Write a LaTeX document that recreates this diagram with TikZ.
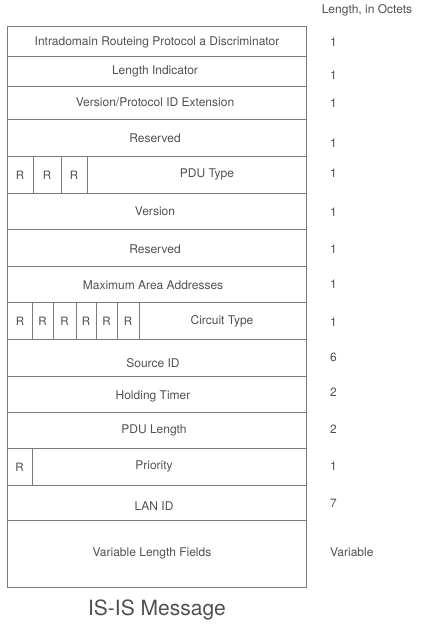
\documentclass[tikz,border=0pt]{standalone}
\usepackage{fontspec}
\setmainfont{TeX Gyre Heros}
\definecolor{txt}{HTML}{505050}
\definecolor{ln}{HTML}{7A7A7A}
\begin{document}
\begin{tikzpicture}[x=1pt,y=-1pt,
  cell/.style={draw=ln,line width=0.9pt},
  lab/.style={text=txt,font=\fontsize{12}{14}\selectfont,inner sep=0pt},
  num/.style={text=txt,font=\fontsize{12}{14}\selectfont,inner sep=0pt,anchor=west},
  rr/.style={text=txt,font=\fontsize{11.5}{14}\selectfont,inner sep=0pt}]
\useasboundingbox (0,0) rectangle (423,628);
% rows
\foreach \a/\b [count=\i] in {26/56,56/86,86/119,119/156,156/193,193/229,229/266,266/302,302/339,339/376,376/412,412/448,448/485,485/520,520/587}
  \draw[cell] (7,\a) rectangle (306,\b) coordinate (row\i);
% sub-cells
\foreach \x in {33,61,87} \draw[cell] (\x,156) -- (\x,193);
\foreach \x in {32,53,76,96,117,139} \draw[cell] (\x,302) -- (\x,339);
\draw[cell] (32,448) -- (32,485);
% header
\node[lab] (hdr) at (367,10) {Length, in Octets};
% labels
\node[lab] (f1) at (157,42) {Intradomain Routeing Protocol a Discriminator};
\node[lab] (f2) at (155,71) {Length Indicator};
\node[lab] (f3) at (155,102) {Version/Protocol ID Extension};
\node[lab] (f4) at (155,138) {Reserved};
\node[rr] (p1) at (20,175) {R};
\node[rr] (p2) at (47,175) {R};
\node[rr] (p3) at (74,175) {R};
\node[lab] (f5) at (207,174) {PDU Type};
\node[lab] (f6) at (155,211) {Version};
\node[lab] (f7) at (155,249) {Reserved};
\node[lab] (f8) at (153,285) {Maximum Area Addresses};
\node[rr] (c1) at (20,321) {R};
\node[rr] (c2) at (42.5,321) {R};
\node[rr] (c3) at (64.5,321) {R};
\node[rr] (c4) at (86,321) {R};
\node[rr] (c5) at (106.5,321) {R};
\node[rr] (c6) at (128,321) {R};
\node[lab] (f9) at (222,321) {Circuit Type};
\node[lab] (f10) at (153,363) {Source ID};
\node[lab] (f11) at (153,396) {Holding Timer};
\node[lab] (f12) at (154,430) {PDU Length};
\node[rr] (q1) at (19.5,467) {R};
\node[lab] (f13) at (154,466) {Priority};
\node[lab] (f14) at (154,506) {LAN ID};
\node[lab] (f15) at (152,553) {Variable Length Fields};
% lengths
\node[num] (n1) at (330,42) {1};
\node[num] (n2) at (330,75) {1};
\node[num] (n3) at (330,103) {1};
\node[num] (n4) at (330,143) {1};
\node[num] (n5) at (330,173) {1};
\node[num] (n6) at (330,212) {1};
\node[num] (n7) at (330,249) {1};
\node[num] (n8) at (330,284) {1};
\node[num] (n9) at (330,322) {1};
\node[num] (n10) at (330,357) {6};
\node[num] (n11) at (330,392) {2};
\node[num] (n12) at (330,429) {2};
\node[num] (n13) at (330,466) {1};
\node[num] (n14) at (330,503) {7};
\node[num] (n15) at (330,552) {Variable};
% title
\node[text=txt,font=\fontsize{21}{24}\selectfont,inner sep=0pt] (title) at (157,610) {IS-IS Message};
\end{tikzpicture}
\end{document}
